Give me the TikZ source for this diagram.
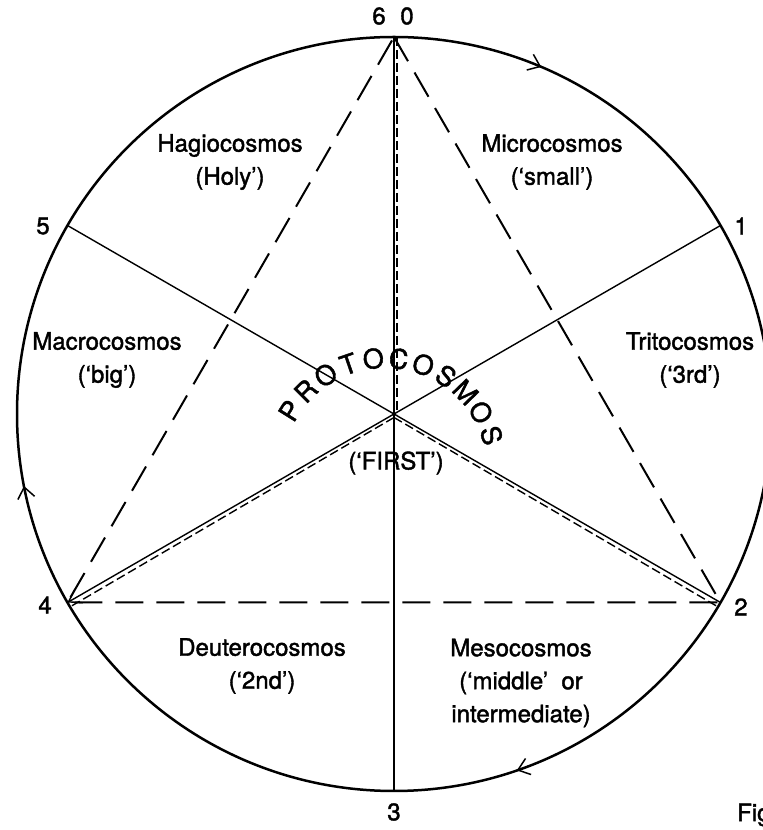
\documentclass[tikz,border=0pt]{standalone}
\usepackage{fontspec}
\setmainfont{TeX Gyre Heros}[FakeBold=1.6]
\usetikzlibrary{arrows.meta,calc}
\begin{document}
\begin{tikzpicture}[x=1pt,y=1pt,
  lbl/.style={font=\fontsize{24}{33}\selectfont, align=center, inner sep=0pt},
  num/.style={font=\fontsize{24}{30}\selectfont, inner sep=0pt},
  arcl/.style={font=\fontsize{27}{30}\selectfont, inner sep=0pt},
  rim/.style={line width=2.5pt},
  spoke/.style={line width=1.4pt},
  tri/.style={line width=2pt, dash pattern=on 28pt off 13pt},
  fine/.style={line width=1.4pt, dash pattern=on 9pt off 4pt},
  barb/.style={-{Straight Barb[length=11pt,width=17pt,line width=1.5pt]}},
]
\useasboundingbox (0,0) rectangle (763,830);
\coordinate (C) at (394,416);
\def\R{377}
\coordinate (P0) at ($(C)+(90:\R)$);
\coordinate (P1) at ($(C)+(30:\R)$);
\coordinate (P2) at ($(C)+(-30:\R)$);
\coordinate (P3) at ($(C)+(-90:\R)$);
\coordinate (P4) at ($(C)+(210:\R)$);
\coordinate (P5) at ($(C)+(150:\R)$);

% rim
\draw[rim] (C) circle[radius=377pt];
% direction arrows on the rim
\draw[line width=1.4pt, barb] ($(C)+(69:\R)$) arc[start angle=69, end angle=67, radius=377pt];
\draw[line width=1.4pt, barb] ($(C)+(193:\R)$) arc[start angle=193, end angle=191, radius=377pt];
\draw[line width=1.4pt, barb] ($(C)+(-69:\R)$) arc[start angle=-69, end angle=-71, radius=377pt];

% spokes
\draw[spoke] (P5) -- (C);
\draw[spoke] (P1) -- (C);
\draw[spoke] (P0) -- (C);
\draw[spoke] (C) -- (P3);
\draw[spoke, -{Straight Barb[length=12pt,width=16pt,line width=1.4pt]}] (C) -- (P4);
\draw[spoke] (C) -- (P2);
% dashed companions
\draw[fine] ([xshift=3pt]P0) -- ([xshift=3pt]C);
\draw[fine] ([yshift=-3.5pt]C) -- ([yshift=-3.5pt,xshift=4pt]P4);
\draw[fine] ([yshift=-3.5pt]C) -- ([yshift=-3.5pt,xshift=-4pt]P2);

% dashed triangle
\draw[tri] (P0) -- (P2) -- (P4) -- cycle;

% numbers
\node[num] (n6) at (379,814) {6};
\node[num] (n0) at (407,814) {0};
\node[num] (n1) at (741,604) {1};
\node[num] (n2) at (741,223) {2};
\node[num] (n3) at (394,18) {3};
\node[num] (n4) at (45,225) {4};
\node[num] (n5) at (43,604) {5};

% labels
\node[lbl] (hagio) at (230,668) {Hagiocosmos\\(Holy’)};
\node[lbl] (micro) at (552,668) {Microcosmos\\(‘small’)};
\node[lbl] (macro) at (107,470) {Macrocosmos\\(‘big’)};
\node[lbl] (trito) at (690,470) {Tritocosmos\\(‘3rd’)};
\node[lbl] (first) at (396,367) {(‘FIRST’)};
\node[lbl] (deutero) at (262,164) {Deuterocosmos\\(‘2nd’)};
\node[lbl] (meso) at (521,147) {Mesocosmos\\(‘middle’\ \ or\\intermediate)};

% PROTOCOSMOS on an arc
\coordinate (AC) at (385,360);
\foreach \l [count=\i from 0] in {P,R,O,T,O,C,O,S,M,O,S} {
  \pgfmathsetmacro\ang{148-13*\i}
  \pgfmathsetmacro\rot{\ang-90}
  \node[arcl, rotate=\rot] (pc\i) at ($(AC)+(\ang:112)$) {\l};
}

\node[lbl, anchor=west] (fig) at (737,15) {Fig};
\end{tikzpicture}
\end{document}
